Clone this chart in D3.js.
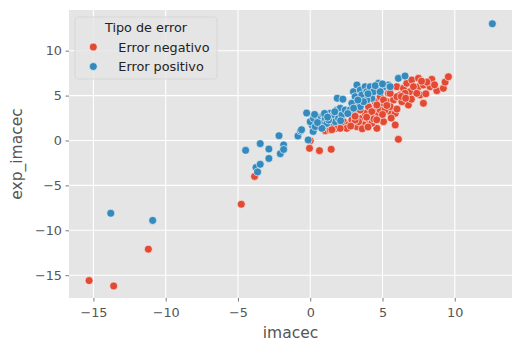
<!DOCTYPE html>
<html>
<head>
<meta charset="utf-8">
<script src="https://cdn.jsdelivr.net/npm/d3@7"></script>
<style>
  html, body { margin: 0; padding: 0; background: #fff; }
  svg { display: block; font-family: 'DejaVu Sans', sans-serif; }
</style>
</head>
<body>
<svg id="chart" width="524" height="352"></svg>
<script>
// Error negativo (red)
const negX = [-15.3, -13.6, -11.2, -4.77, -3.85, -0.05, 0.0, 0.64, 1.45, 1.04, 1.38, 1.84, 2.19, 2.30, 2.65, 2.88, 2.99, 3.23, 3.57, 3.80,
  3.92, 4.15, 4.38, 4.49, 4.61, 4.72, 4.84, 4.95, 5.07, 5.30, 5.41, 5.53, 5.76, 5.88, 5.88, 5.99, 6.10, 6.22, 6.45, 6.56,
  6.68, 6.79, 6.91, 7.03, 7.49, 7.49, 7.60, 7.83, 7.83, 8.29, 8.41, 8.76, 9.21, 9.33, 9.56, 3.46, 4.03, 4.26, 3.69, 3.34,
  4.84, 5.18, 5.53, 5.99, 6.34, 6.56, 7.14, 7.37, 8.07, 5.53, 5.07, 4.61, 4.26, 3.11, 2.53, 2.07, 1.61, 1.5, 2.8, 3.6,
  4.0, 4.4, 5.0, 5.6, 6.0, 6.3, 7.0, 8.0, 7.7, 8.6, 3.1, 3.9, 4.6, 5.3, 6.6]
const negY = [-15.6, -16.2, -12.1, -7.1, -4.0, -0.87, -0.02, -1.13, -0.98, 1.09, 1.17, 1.35, 1.73, 2.10, 1.73, 2.28, 3.03, 1.54, 2.47, 3.03,
  2.10, 2.66, 3.40, 4.32, 1.35, 2.84, 4.88, 3.77, 2.10, 4.32, 5.25, 3.21, 4.51, 3.03, 1.73, 5.99, 0.13, 5.07, 5.81, 4.32,
  6.37, 3.95, 5.44, 6.74, 6.92, 5.99, 5.07, 4.14, 6.18, 5.99, 6.81, 5.55, 5.81, 6.50, 7.10, 3.40, 3.77, 1.91, 1.73, 2.10,
  3.40, 3.40, 3.77, 4.88, 4.32, 5.25, 5.99, 5.25, 6.50, 5.25, 4.51, 3.95, 3.21, 2.28, 1.35, 1.35, 1.54, 1.2, 1.6, 1.3,
  1.5, 2.4, 2.9, 2.5, 3.5, 4.9, 4.6, 5.2, 6.6, 6.2, 2.7, 2.6, 2.3, 3.9, 4.7]

// Error positivo (blue)
const posX = [12.6, -13.8, -10.9, -4.47, -3.46, -2.86, -2.86, -3.75, -3.46, -3.64, -2.16, -1.84, -2.07, -1.84, -0.85, -0.67, -0.25, -0.14, 0.14, 0.2,
  0.58, 0.69, 0.92, 1.04, 1.15, 1.38, 1.50, 1.61, 1.73, 1.84, 1.96, 2.07, 2.19, 2.42, 2.99, 3.23, 3.11, 3.46, 3.57, 3.80,
  3.92, 4.15, 4.26, 4.61, 4.72, 5.07, 5.41, 5.53, 6.10, 6.56, 3.23, 3.46, 2.88, 3.92, 2.76, 0.0, 0.23, 0.35, 0.81, 1.27,
  4.38, 4.84, 3.69, 1.87, 2.26, -0.6, 0.5, 1.0, 1.7, 2.6, 3.0, 3.3, 4.0, 4.5, 5.0, 0.3, 1.2, 2.1]
const posY = [13.0, -8.1, -8.9, -1.1, -0.35, -0.95, -2.0, -3.0, -2.65, -3.5, 0.53, -0.5, -1.47, -1.0, 0.5, 1.06, 3.06, 0.06, 1.7, 1.0,
  2.58, 1.91, 2.84, 2.47, 1.91, 3.03, 2.47, 2.84, 2.10, 3.40, 2.47, 3.59, 2.84, 3.40, 5.44, 6.18, 4.88, 5.62, 5.07, 5.99,
  5.44, 5.99, 4.70, 5.99, 6.37, 5.99, 6.18, 5.99, 6.92, 7.18, 4.14, 3.77, 4.14, 4.51, 3.40, 2.1, 2.47, 1.54, 1.35, 2.28,
  5.44, 5.44, 4.32, 4.7, 4.6, 1.2, 2.0, 3.0, 3.2, 3.0, 3.6, 4.5, 5.2, 6.1, 6.3, 2.9, 2.6, 2.2]

const xTicks = [-15, -10, -5, 0, 5, 10]
const yTicks = [-15, -10, -5, 0, 5, 10]
const series = [
  { name: 'Error negativo', color: '#E24A33', xs: negX, ys: negY },
  { name: 'Error positivo', color: '#348ABD', xs: posX, ys: posY }
]

const BG = '#E5E5E5'
const TEXT = '#555555'
const FONT = 12.8
const margin = { top: 10, right: 12, bottom: 54, left: 69 }
const W = 524, H = 352
const iw = W - margin.left - margin.right
const ih = H - margin.top - margin.bottom

const svg = d3.select('#chart')
const g = svg.append('g').attr('transform', `translate(${margin.left},${margin.top})`)

const x = d3.scaleLinear().domain([-16.69, 13.96]).range([0, iw])
const y = d3.scaleLinear().domain([-17.54, 14.53]).range([ih, 0])

g.append('rect').attr('width', iw).attr('height', ih).attr('fill', BG)

// grid
g.append('g').selectAll('line').data(xTicks).join('line')
  .attr('x1', d => x(d)).attr('x2', d => x(d)).attr('y1', 0).attr('y2', ih)
  .attr('stroke', '#fff').attr('stroke-width', 1.1)
g.append('g').selectAll('line').data(yTicks).join('line')
  .attr('y1', d => y(d)).attr('y2', d => y(d)).attr('x1', 0).attr('x2', iw)
  .attr('stroke', '#fff').attr('stroke-width', 1.1)

// axes
const xAxis = g.append('g').attr('transform', `translate(0,${ih})`)
  .call(d3.axisBottom(x).tickValues(xTicks).tickSize(3.5).tickPadding(6))
const yAxis = g.append('g')
  .call(d3.axisLeft(y).tickValues(yTicks).tickSize(3.5).tickPadding(3.5))
for (const ax of [xAxis, yAxis]) {
  ax.select('.domain').remove()
  ax.selectAll('line').attr('stroke', TEXT).attr('stroke-width', 0.8)
  ax.selectAll('text').attr('fill', TEXT).attr('font-size', FONT)
    .attr('font-family', 'DejaVu Sans, sans-serif')
}

// points
series.forEach(s => {
  g.append('g').selectAll('circle').data(s.xs.map((v, i) => [v, s.ys[i]])).join('circle')
    .attr('cx', d => x(d[0])).attr('cy', d => y(d[1])).attr('r', 4)
    .attr('fill', s.color).attr('stroke', '#fff').attr('stroke-width', 0.6)
})

// axis labels
svg.append('text').attr('x', margin.left + iw / 2).attr('y', 338)
  .attr('text-anchor', 'middle').attr('font-size', 15.5).attr('fill', TEXT).text('imacec')
svg.append('text').attr('transform', `translate(22,${margin.top + ih / 2}) rotate(-90)`)
  .attr('text-anchor', 'middle').attr('font-size', 15.5).attr('fill', TEXT).text('exp_imacec')

// legend
const lg = svg.append('g').attr('transform', 'translate(75,17)')
lg.append('rect').attr('width', 142).attr('height', 62).attr('rx', 3)
  .attr('fill', 'rgba(229,229,229,0.8)').attr('stroke', '#d4d4d4').attr('stroke-width', 0.8)
lg.append('text').attr('x', 71).attr('y', 14.5).attr('text-anchor', 'middle')
  .attr('font-size', FONT).attr('fill', '#222').text('Tipo de error')
series.forEach((s, i) => {
  const row = lg.append('g').attr('transform', `translate(0,${30 + i * 19.5})`)
  row.append('circle').attr('cx', 18.3).attr('cy', 0).attr('r', 4)
    .attr('fill', s.color).attr('stroke', '#fff').attr('stroke-width', 0.6)
  row.append('text').attr('x', 43.3).attr('y', 4.5).attr('font-size', FONT).attr('fill', '#222').text(s.name)
})
</script>
</body>
</html>
